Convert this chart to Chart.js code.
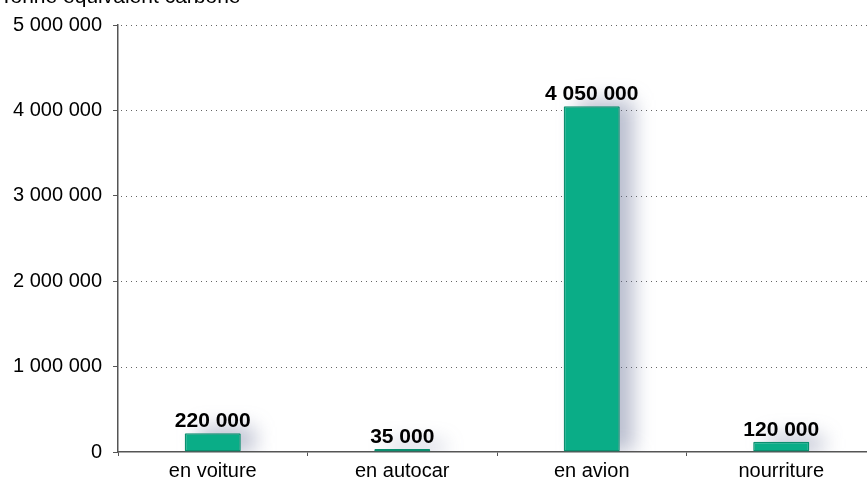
<!DOCTYPE html>
<html>
<head>
<meta charset="utf-8">
<script src="https://cdn.jsdelivr.net/npm/chart.js@4"></script>
<style>
  html, body { margin: 0; padding: 0; background: #fff; overflow: hidden; }
  #wrap { position: absolute; left: 0; top: 0; width: 877px; height: 479px; }
</style>
</head>
<body>
<div id="wrap"><canvas id="c" width="877" height="479"></canvas></div>
<script>
const categories = ['en voiture', 'en autocar', 'en avion', 'nourriture'];
const emissions = [220000, 35000, 4050000, 120000];
const yTicks = [0, 1000000, 2000000, 3000000, 4000000, 5000000];
const unitLabel = 'Tonne équivalent carbone';

const fmt = v => String(v).replace(/\B(?=(\d{3})+(?!\d))/g, ' ');
const FONT = '"Liberation Sans", Arial, sans-serif';

// dotted horizontal guides at each y tick
const dottedGrid = {
  id: 'dottedGrid',
  beforeDatasetsDraw(chart) {
    const { ctx, chartArea, scales } = chart;
    ctx.save();
    ctx.strokeStyle = '#666';
    ctx.lineWidth = 1;
    ctx.setLineDash([1, 4]);
    yTicks.forEach(t => {
      if (t === 0) return;
      const y = Math.round(scales.y.getPixelForValue(t)) + 0.5;
      ctx.beginPath();
      ctx.moveTo(chartArea.left + 3, y);
      ctx.lineTo(chartArea.right, y);
      ctx.stroke();
    });
    ctx.restore();
  }
};

// soft blurred shadow behind and to the right of each bar
const barShadow = {
  id: 'barShadow',
  beforeDatasetsDraw(chart) {
    const { ctx, chartArea } = chart;
    const meta = chart.getDatasetMeta(0);
    ctx.save();
    ctx.beginPath();
    ctx.rect(chartArea.left + 1, chartArea.top - 30, chartArea.right - chartArea.left, chartArea.bottom - chartArea.top + 29);
    ctx.clip();
    ctx.filter = 'blur(10px)';
    ctx.fillStyle = 'rgba(90, 100, 140, 0.42)';
    meta.data.forEach(bar => {
      const w = bar.width;
      const h = bar.base - bar.y;
      ctx.fillRect(bar.x - w / 2 + 14, bar.y - 6, w, h + 6);
    });
    ctx.restore();
  }
};

// value labels above bars and unit caption
const labels = {
  id: 'labels',
  afterDatasetsDraw(chart) {
    const { ctx } = chart;
    const meta = chart.getDatasetMeta(0);
    ctx.save();
    ctx.fillStyle = '#000';
    ctx.font = 'bold 21px ' + FONT;
    ctx.textAlign = 'center';
    ctx.textBaseline = 'alphabetic';
    meta.data.forEach((bar, i) => {
      ctx.fillText(fmt(emissions[i]), bar.x, bar.y - 6);
    });
    ctx.font = '21px ' + FONT;
    ctx.textAlign = 'left';
    ctx.fillText(unitLabel, 0, 3);
    ctx.restore();
  }
};

new Chart(document.getElementById('c'), {
  type: 'bar',
  data: {
    labels: categories,
    datasets: [{
      data: emissions,
      backgroundColor: '#0aad87',
      borderColor: '#0b8f6f',
      borderWidth: 1.5,
      borderRadius: 1,
      borderSkipped: false,
      categoryPercentage: 1,
      barPercentage: 0.296
    }]
  },
  options: {
    responsive: false,
    animation: false,
    devicePixelRatio: 1,
    layout: { padding: { top: 25, right: 1, left: 0, bottom: 0 } },
    plugins: { legend: { display: false }, tooltip: { enabled: false } },
    scales: {
      x: {
        afterFit(scale) { scale.height = 27; },
        grid: { drawOnChartArea: false, drawTicks: true, tickLength: 4, color: '#555', lineWidth: 1, offset: true },
        border: { color: '#555', width: 1.5 },
        ticks: { color: '#000', font: { family: FONT, size: 20 }, padding: 3 }
      },
      y: {
        min: 0,
        max: 5000000,
        afterFit(scale) { scale.width = 118; },
        afterBuildTicks(scale) { scale.ticks = yTicks.map(v => ({ value: v })); },
        grid: { drawOnChartArea: false, drawTicks: true, tickLength: 5, color: '#555', lineWidth: 1 },
        border: { color: '#555', width: 1.5 },
        ticks: { color: '#000', font: { family: FONT, size: 20 }, padding: 11, callback: v => fmt(v) }
      }
    }
  },
  plugins: [dottedGrid, barShadow, labels]
});
</script>
</body>
</html>
